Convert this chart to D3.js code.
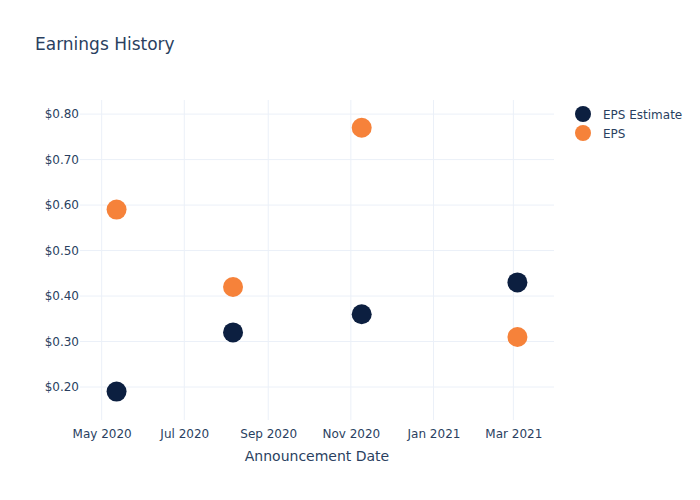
<!DOCTYPE html>
<html><head><meta charset="utf-8">
<script src="https://cdn.jsdelivr.net/npm/d3@7"></script>
<style>body{margin:0;background:#fff}svg{font-family:"DejaVu Sans",Verdana,sans-serif}</style>
</head><body><svg id="c" width="700" height="500"></svg>
<script>
const dates = ["2020-05-12","2020-08-06","2020-11-09","2021-03-04"];
const epsEstimate = [0.19, 0.32, 0.36, 0.43];
const eps = [0.59, 0.42, 0.77, 0.31];
const yTicks = [0.2,0.3,0.4,0.5,0.6,0.7,0.8];
const xTicks = ["2020-05-01","2020-07-01","2020-09-01","2020-11-01","2021-01-01","2021-03-01"];
const seriesNames = ["EPS Estimate","EPS"];
const colors = ["#0c1f40","#f6823a"];

const parse = d3.utcParse("%Y-%m-%d");
const svg = d3.select("#c");
const L=80, R=554, T=100, B=420;
const x = d3.scaleUtc().domain([parse("2020-04-15"), parse("2021-03-31")]).range([L,R]);
const y = d3.scaleLinear().domain([0.1275, 0.831]).range([B,T]);
const txt = "#2a3f5f", grid = "#ebf0f8";

// grid
svg.append("g").selectAll("line").data(xTicks).join("line")
  .attr("x1",d=>x(parse(d))).attr("x2",d=>x(parse(d))).attr("y1",T).attr("y2",B)
  .attr("stroke",grid).attr("stroke-width",1);
svg.append("g").selectAll("line").data(yTicks).join("line")
  .attr("x1",L).attr("x2",R).attr("y1",d=>y(d)).attr("y2",d=>y(d))
  .attr("stroke",grid).attr("stroke-width",1);

// axes
const xa = svg.append("g").attr("transform",`translate(0,${B})`)
  .call(d3.axisBottom(x).tickValues(xTicks.map(parse)).tickFormat(d3.utcFormat("%b %Y")).tickSize(0).tickPadding(9));
const ya = svg.append("g").attr("transform",`translate(${L},0)`)
  .call(d3.axisLeft(y).tickValues(yTicks).tickFormat(d=>"$"+d.toFixed(2)).tickSize(0).tickPadding(1));
[xa,ya].forEach(a=>{a.select(".domain").remove();a.selectAll("text").attr("fill",txt).attr("font-size",12).attr("font-family","DejaVu Sans");});

// points
const series = [epsEstimate, eps];
series.forEach((vals,i)=>{
  svg.append("g").selectAll("circle").data(vals).join("circle")
    .attr("cx",(d,j)=>x(parse(dates[j]))).attr("cy",d=>y(d)).attr("r",10)
    .attr("fill",colors[i]);
});

// title
svg.append("text").attr("x",35).attr("y",50).attr("fill",txt).attr("font-size",17).text("Earnings History");
svg.append("text").attr("x",(L+R)/2).attr("y",461).attr("text-anchor","middle").attr("fill",txt).attr("font-size",14).text("Announcement Date");

// legend
const lg = svg.append("g").selectAll("g").data(seriesNames).join("g")
  .attr("transform",(d,i)=>`translate(583,${114+i*19})`);
lg.append("circle").attr("r",8).attr("fill",(d,i)=>colors[i]);
lg.append("text").attr("x",20).attr("y",4.5).attr("fill",txt).attr("font-size",12).text(d=>d);
</script></body></html>
